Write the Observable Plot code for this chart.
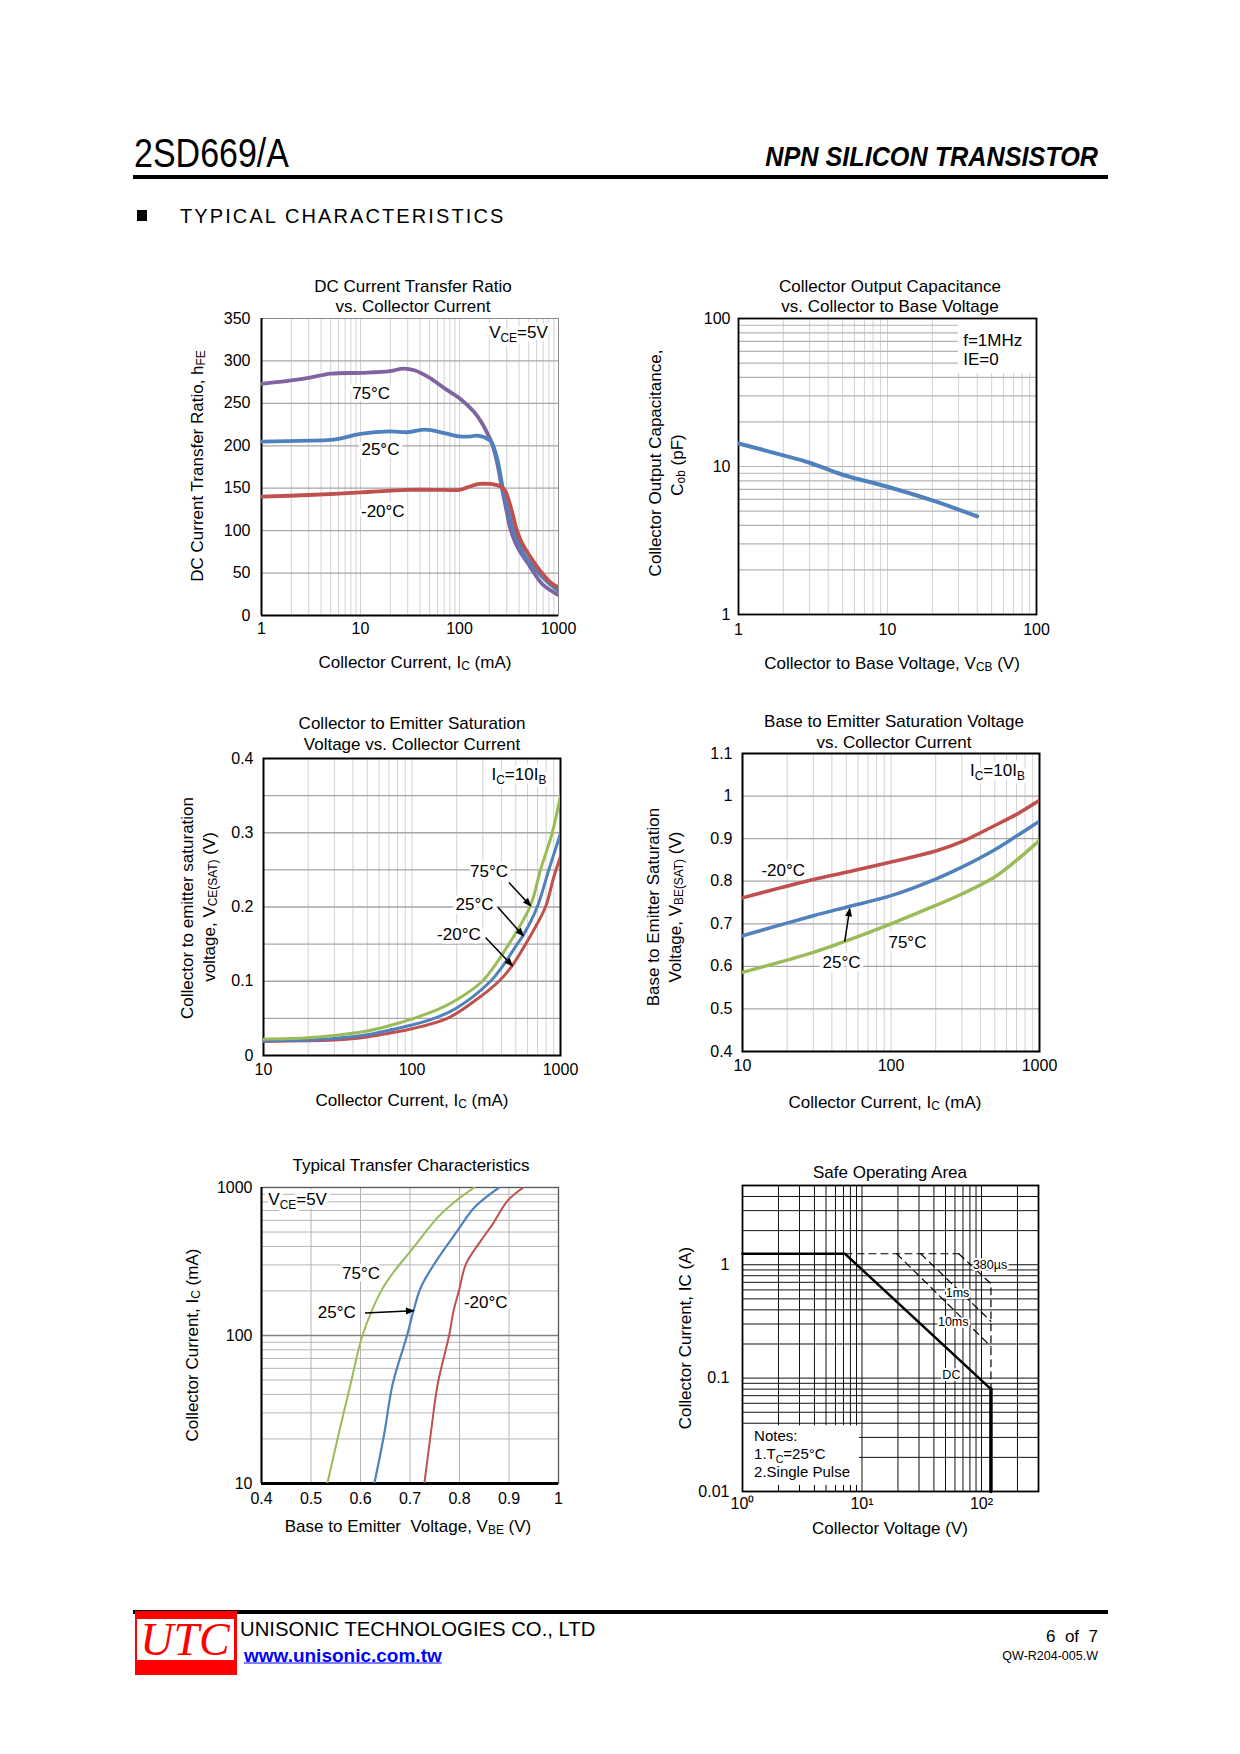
<!DOCTYPE html>
<html><head><meta charset="utf-8">
<script src="https://cdn.jsdelivr.net/npm/d3@7"></script>
<script src="https://cdn.jsdelivr.net/npm/@observablehq/plot@0.6"></script>
<style>
html,body{margin:0;padding:0;background:#fff;}
#page{position:relative;width:1240px;height:1754px;background:#fff;overflow:hidden;font-family:"Liberation Sans",Arial,Helvetica,sans-serif;color:#000;}
.t{position:absolute;white-space:nowrap;line-height:1;}
.c{transform:translate(-50%,-50%);}
.rot{transform:translate(-50%,-50%) rotate(-90deg);}
sub{font-size:0.7em;vertical-align:-0.25em;line-height:0;}
.box{position:absolute;}
</style></head><body><div id="page"></div>
<script>
const ns = "http://www.w3.org/2000/svg";
const FONT = '"Liberation Sans", Arial, Helvetica, sans-serif';
const PURPLE = "#8064A2", BLUE = "#4F81BD", RED = "#C0504D", GREEN = "#9BBB59";

// ================= DATA =================
// Chart 1: DC current transfer ratio hFE vs Ic (mA)
const hfe75Ic = [1,2,3,5,10,20,27,35,50,70,100,140,170,200,213,240,268,300,325,360,400,500,560,700,1000];
const hfe75   = [273,277,280,285,286,288,291,289,280,268,256,240,226,210,203,180,150,122,103,88,77,60,51,36,24];
const hfe25Ic = [1,3,5,6,10,20,30,45,70,100,130,150,200,213,240,274,300,352,400,450,629,800,1000];
const hfe25   = [205,206,207,208,214,217,216,219,215,211,211,212,207,203,185,150,130,100,85,72,50,38,29];
const hfeM20Ic = [1,3,10,30,70,100,120,160,200,230,260,290,310,340,380,430,500,679,850,1000];
const hfeM20   = [140,142,145,148,148,148,151,155,155,154,152,147,138,122,100,85,72,50,38,33];
const c1LabelText = ["75°C","25°C","-20°C","V_{CE}=5V"];
const c1LabelX = [12.8,15.9,16.8,394];
const c1LabelY = [262,196,123,334];
const c1XTicks = [1,10,100,1000];
const c1YTicks = [0,50,100,150,200,250,300,350];
const grid1X = [2,3,4,5,6,7,8,9,10,20,30,40,50,60,70,80,90,100,200,300,400,500,600,700,800,900];
const grid1Y = [50,100,150,200,250,300];

// Chart 2: Cob vs Vcb
const cobVcb = [1,2,3,5,10,20,40];
const cobPf  = [14.3,11.9,10.6,8.8,7.3,5.9,4.6];
const c2LabelText = ["f=1MHz","IE=0"];
const c2LabelX = [32.2,32.2];
const c2LabelY = [71.3,52.8];
const c2NoteBox = [{x1:29.9, x2:100, y1:42.5, y2:100}];
const c2Ticks = [1,10,100];
const grid2 = [2,3,4,5,6,7,8,9,10,20,30,40,50,60,70,80,90];

// Chart 3: VCE(sat) vs Ic
const vce75Ic = [10,20,30,50,70,103,150,200,297,449,628,733,880,1000];
const vce75   = [0.022,0.024,0.027,0.033,0.040,0.050,0.062,0.075,0.100,0.150,0.202,0.250,0.300,0.350];
const vce25Ic = [10,20,30,50,70,100,141,200,338,400,511,561,697,834,1000];
const vce25   = [0.020,0.021,0.023,0.028,0.034,0.041,0.050,0.064,0.100,0.118,0.150,0.162,0.200,0.250,0.299];
const vceM20Ic = [10,20,30,50,70,100,173,250,385,473,582,792,900,1000];
const vceM20   = [0.019,0.020,0.021,0.025,0.030,0.036,0.050,0.070,0.100,0.121,0.150,0.200,0.240,0.268];
const c3LabelText = ["75°C","25°C","-20°C","I_{C}=10I_{B}"];
const c3LabelX = [330,264,207,525];
const c3LabelY = [0.248,0.203,0.163,0.379];
const c3ArrowX1 = [449,379,313], c3ArrowY1 = [0.233,0.1996,0.159];
const c3ArrowX2 = [628,561,473], c3ArrowY2 = [0.2018,0.1614,0.121];
const c3XTicks = [10,100,1000];
const c3YTicks = [0,0.1,0.2,0.3,0.4];
const grid34X = [20,30,40,50,60,70,80,90,100,200,300,400,500,600,700,800,900];
const grid3Y = [0.05,0.1,0.15,0.2,0.25,0.3,0.35];

// Chart 4: VBE(sat) vs Ic
const vbeIc = [10,30,50,100,200,300,500,700,1000];
const vbeM20 = [0.761,0.804,0.821,0.845,0.871,0.893,0.931,0.957,0.990];
const vbe25  = [0.672,0.719,0.739,0.766,0.805,0.833,0.874,0.906,0.941];
const vbe75  = [0.586,0.633,0.660,0.700,0.743,0.770,0.810,0.849,0.896];
const c4LabelText = ["-20°C","75°C","25°C","I_{C}=10I_{B}"];
const c4LabelX = [18.8,129,46.4,521];
const c4LabelY = [0.825,0.657,0.608,1.061];
const c4ArrowX1 = [48.8], c4ArrowY1 = [0.658], c4ArrowX2 = [52.7], c4ArrowY2 = [0.735];
const c4YTicks = [0.4,0.5,0.6,0.7,0.8,0.9,1,1.1];
const grid4Y = [0.5,0.6,0.7,0.8,0.9,1.0];

// Chart 5: transfer characteristics Ic vs VBE
const tr75V = [0.533,0.556,0.580,0.604,0.642,0.665,0.702,0.756,0.793,0.830];
const tr75I = [10,21.7,47,100,201,263,374,628,813,1000];
const tr25V = [0.628,0.648,0.665,0.694,0.707,0.722,0.749,0.796,0.830,0.880];
const tr25I = [10,21.7,47,100,147,212,304,511,733,1000];
const trM20V = [0.729,0.742,0.756,0.779,0.788,0.799,0.813,0.843,0.867,0.897,0.929];
const trM20I = [10,21.7,47,100,147,201,304,436,566,813,1000];
const c5LabelText = ["75°C","25°C","-20°C","V_{CE}=5V"];
const c5LabelX = [0.601,0.552,0.853,0.473];
const c5LabelY = [263,142,168,835];
const c5ArrowX1 = [0.609], c5ArrowY1 = [142], c5ArrowX2 = [0.707], c5ArrowY2 = [147];
const c5XTicks = [0.4,0.5,0.6,0.7,0.8,0.9,1];
const c5YTicks = [10,100,1000];
const grid5X = [0.5,0.6,0.7,0.8,0.9];
const grid5Y = [20,30,40,50,60,70,80,90,200,300,400,500,600,700,800,900];

// Chart 6: Safe operating area
const soaDcV = [1,7.2,120];          const soaDcI = [1.25,1.25,0.08];
const soaDropV = [120,120];          const soaDropI = [0.08,0.01];
const soaTopV = [7.2,64.5];          const soaTopI = [1.25,1.25];
const soa380V = [64.5,120,120];      const soa380I = [1.25,0.68,0.08];
const soa1msV = [31,120];            const soa1msI = [1.25,0.317];
const soa10msV = [19.5,120];         const soa10msI = [1.25,0.19];
const c6LabelText = ["380µs","1ms","10ms","DC"];
const c6LabelX = [118,63,58,56];
const c6LabelY = [1.0,0.56,0.31,0.106];
const c6NoteText = ["Notes:","1.T_{C}=25°C","2.Single Pulse"];
const c6NoteX = [1.25,1.25,1.25];
const c6NoteY = [0.031,0.0215,0.0147];
const c6NoteBox = [{x1:1, x2:9.5, y1:0.01, y2:0.038}];
const c6XTicks = [1,10,100];
const c6XTickText = ["10⁰","10¹","10²"];
const c6YTicks = [0.01,0.1,1];
const grid6X = [2,3,4,5,6,7,8,9,10,20,30,40,50,60,70,80,90,100,200];
const grid6Y = [0.02,0.03,0.04,0.05,0.06,0.07,0.08,0.09,0.1,0.2,0.3,0.4,0.5,0.6,0.7,0.8,0.9,1,2,3,4];
const soaMinorTicks = [2,3,4,5,6,7,8,9];

// ================= HELPERS =================
const page = document.getElementById("page");
const rows = (xs, ys) => xs.map((x, i) => ({x, y: ys[i]}));
const lbls = (ts, xs, ys) => ts.map((t, i) => ({t, x: xs[i], y: ys[i]}));
const arrows = (x1, y1, x2, y2) => x1.map((v, i) => ({x1: v, y1: y1[i], x2: x2[i], y2: y2[i]}));
const series = (xs, ys, color, w) => Plot.line(rows(xs, ys), {x: "x", y: "y", stroke: color, strokeWidth: w, curve: "catmull-rom", clip: true, strokeLinecap: "round", strokeLinejoin: "round"});
// text with a white halo: a white stroked layer below, a black fill layer above
const halo = (data, opts = {}) => {
  const {strokeWidth = 7, ...rest} = opts;
  const base = {x: "x", y: "y", text: "t", fontSize: 17, ...rest};
  const marks = [];
  if (strokeWidth > 0) marks.push(Plot.text(data, {...base, fill: "white", stroke: "white", strokeWidth, strokeLinejoin: "round"}));
  marks.push(Plot.text(data, {...base, fill: "#000"}));
  return marks;
};
const arrowMarks = (d) => Plot.link(d, {x1: "x1", y1: "y1", x2: "x2", y2: "y2", stroke: "#000", strokeWidth: 1.5, markerEnd: "arrow"});

function post(svg) {
  svg.querySelectorAll("text").forEach(t => {
    const s = t.textContent;
    if (!s.includes("_{")) return;
    t.textContent = "";
    const parts = s.split(/(_\{[^}]*\})/).filter(Boolean);
    let down = false;
    for (const p of parts) {
      const ts = document.createElementNS(ns, "tspan");
      if (p.startsWith("_{")) {
        ts.textContent = p.slice(2, -1);
        ts.setAttribute("font-size", "70%");
        if (!down) { ts.setAttribute("dy", "4"); down = true; }
      } else {
        ts.textContent = p;
        if (down) { ts.setAttribute("dy", "-4"); down = false; }
      }
      t.appendChild(ts);
    }
  });
  svg.querySelectorAll("marker").forEach(m => {
    const c = m.getAttribute("stroke") || "black";
    m.setAttribute("viewBox", "-8 -5 10 10");
    m.setAttribute("fill", c);
    m.setAttribute("stroke", "none");
    while (m.firstChild) m.removeChild(m.firstChild);
    const p = document.createElementNS(ns, "path");
    p.setAttribute("d", "M-7.5,-3.5L1.5,0L-7.5,3.5Z");
    m.appendChild(p);
  });
}

function place(frame, opts) {
  const [fx, fy, fw, fh] = frame;
  const mL = 70, mR = 30, mT = 12, mB = 32;
  const svg = Plot.plot({
    width: fw + mL + mR, height: fh + mT + mB,
    marginLeft: mL, marginRight: mR, marginTop: mT, marginBottom: mB,
    style: {fontFamily: FONT, fontSize: "16px", background: "transparent", color: "#000", overflow: "visible"},
    ...opts
  });
  post(svg);
  svg.style.position = "absolute";
  svg.style.left = (fx - mL) + "px";
  svg.style.top = (fy - mT) + "px";
  svg.style.maxWidth = "none";
  page.appendChild(svg);
}

function T(html, x, y, {cls = "c", size = 17, css = {}} = {}) {
  const d = document.createElement("div");
  d.className = "t " + cls;
  d.innerHTML = html;
  d.style.left = x + "px"; d.style.top = y + "px"; d.style.fontSize = size + "px";
  Object.assign(d.style, css);
  page.appendChild(d);
  return d;
}
function B(x, y, w, h, color) {
  const d = document.createElement("div");
  d.className = "box";
  Object.assign(d.style, {left: x + "px", top: y + "px", width: w + "px", height: h + "px", background: color});
  page.appendChild(d);
}
const ax = (ticks, pad, fmt = String) => Plot.axisX(ticks, {tickSize: 0, tickPadding: pad, tickFormat: fmt, label: null});
const ay = (ticks, pad, fmt = String) => Plot.axisY(ticks, {tickSize: 0, tickPadding: pad, tickFormat: fmt, label: null});

// ================= CHART 1 =================
place([261, 318, 297, 297], {
  x: {type: "log", domain: [1, 1000]},
  y: {type: "linear", domain: [0, 350]},
  marks: [
    Plot.ruleX(grid1X, {stroke: "#d2d2d2", strokeWidth: 1}),
    Plot.ruleY(grid1Y, {stroke: "#a6a6a6", strokeWidth: 1.3}),
    Plot.frame({stroke: "#8a8a8a"}),
    Plot.ruleX([1], {stroke: "#000", strokeWidth: 2}),
    Plot.ruleY([0], {stroke: "#000", strokeWidth: 2}),
    ax(c1XTicks, 7), ay(c1YTicks, 11),
    series(hfe75Ic, hfe75, PURPLE, 3.8),
    series(hfe25Ic, hfe25, BLUE, 3.8),
    series(hfeM20Ic, hfeM20, RED, 3.8),
    halo(lbls(c1LabelText, c1LabelX, c1LabelY))
  ]
});
T("DC Current Transfer Ratio", 413, 286);
T("vs. Collector Current", 413, 306);
T("DC Current Transfer Ratio, h<sub>FE</sub>", 197, 466, {cls: "rot"});
T("Collector Current, I<sub>C</sub> (mA)", 415, 662);

// ================= CHART 2 =================
place([738, 318, 298, 296], {
  x: {type: "log", domain: [1, 100]},
  y: {type: "log", domain: [1, 100]},
  marks: [
    Plot.ruleX(grid2, {stroke: "#d2d2d2", strokeWidth: 1}),
    Plot.ruleY(grid2, {stroke: "#b4b4b4", strokeWidth: 1.2}),
    Plot.rect(c2NoteBox, {x1: "x1", x2: "x2", y1: "y1", y2: "y2", fill: "white"}),
    Plot.frame({stroke: "#000", strokeWidth: 1.8}),
    ax(c2Ticks, 9), ay(c2Ticks, 8),
    series(cobVcb, cobPf, BLUE, 4),
    halo(lbls(c2LabelText, c2LabelX, c2LabelY), {textAnchor: "start", strokeWidth: 4})
  ]
});
T("Collector Output Capacitance", 890, 286);
T("vs. Collector to Base Voltage", 890, 306);
T("Collector Output Capacitance,", 655, 463, {cls: "rot"});
T("C<sub>ob</sub> (pF)", 677, 465, {cls: "rot"});
T("Collector to Base Voltage, V<sub>CB</sub> (V)", 892, 663);

// ================= CHART 3 =================
place([263, 758, 297, 297], {
  x: {type: "log", domain: [10, 1000]},
  y: {type: "linear", domain: [0, 0.4]},
  marks: [
    Plot.ruleX(grid34X, {stroke: "#d2d2d2", strokeWidth: 1}),
    Plot.ruleY(grid3Y, {stroke: "#a6a6a6", strokeWidth: 1.3}),
    Plot.frame({stroke: "#000", strokeWidth: 2}),
    ax(c3XTicks, 8), ay(c3YTicks, 10),
    series(vceM20Ic, vceM20, RED, 3),
    series(vce25Ic, vce25, BLUE, 3),
    series(vce75Ic, vce75, GREEN, 3),
    halo(lbls(c3LabelText, c3LabelX, c3LabelY)),
    arrowMarks(arrows(c3ArrowX1, c3ArrowY1, c3ArrowX2, c3ArrowY2))
  ]
});
T("Collector to Emitter Saturation", 412, 723);
T("Voltage vs. Collector Current", 412, 744);
T("Collector to emitter saturation", 187, 908, {cls: "rot"});
T("voltage, V<sub>CE(SAT)</sub> (V)", 209, 907, {cls: "rot"});
T("Collector Current, I<sub>C</sub> (mA)", 412, 1100);

// ================= CHART 4 =================
place([742, 753, 297, 298], {
  x: {type: "log", domain: [10, 1000]},
  y: {type: "linear", domain: [0.4, 1.1]},
  marks: [
    Plot.ruleX(grid34X, {stroke: "#d2d2d2", strokeWidth: 1}),
    Plot.ruleY(grid4Y, {stroke: "#a6a6a6", strokeWidth: 1.3}),
    Plot.frame({stroke: "#000", strokeWidth: 2}),
    ax(c3XTicks, 8), ay(c4YTicks, 10),
    series(vbeIc, vbeM20, RED, 3.5),
    series(vbeIc, vbe25, BLUE, 3.5),
    series(vbeIc, vbe75, GREEN, 3.5),
    halo(lbls(c4LabelText, c4LabelX, c4LabelY)),
    arrowMarks(arrows(c4ArrowX1, c4ArrowY1, c4ArrowX2, c4ArrowY2))
  ]
});
T("Base to Emitter Saturation Voltage", 894, 721);
T("vs. Collector Current", 894, 742);
T("Base to Emitter Saturation", 653, 907, {cls: "rot"});
T("Voltage, V<sub>BE(SAT)</sub> (V)", 675, 907, {cls: "rot"});
T("Collector Current, I<sub>C</sub> (mA)", 885, 1102);

// ================= CHART 5 =================
place([261, 1187, 297, 296], {
  x: {type: "linear", domain: [0.4, 1]},
  y: {type: "log", domain: [10, 1000]},
  marks: [
    Plot.ruleX(grid5X, {stroke: "#b4b4b4", strokeWidth: 1}),
    Plot.ruleY(grid5Y, {stroke: "#b4b4b4", strokeWidth: 1}),
    Plot.ruleY([100], {stroke: "#808080", strokeWidth: 1.3}),
    Plot.frame({stroke: "#555", strokeWidth: 1.3}),
    Plot.ruleX([0.4], {stroke: "#000", strokeWidth: 2}),
    Plot.ruleY([10], {stroke: "#000", strokeWidth: 3}),
    ax(c5XTicks, 9), ay(c5YTicks, 9),
    series(tr75V, tr75I, GREEN, 2),
    series(tr25V, tr25I, BLUE, 2.2),
    series(trM20V, trM20I, RED, 2),
    halo(lbls(c5LabelText, c5LabelX, c5LabelY)),
    arrowMarks(arrows(c5ArrowX1, c5ArrowY1, c5ArrowX2, c5ArrowY2))
  ]
});
T("Typical Transfer Characteristics", 411, 1165);
T("Collector Current, I<sub>C</sub> (mA)", 192, 1345, {cls: "rot"});
T("Base to Emitter&nbsp; Voltage, V<sub>BE</sub> (V)", 408, 1526);

// ================= CHART 6 =================
place([742, 1185, 296, 306], {
  x: {type: "log", domain: [1, 300]},
  y: {type: "log", domain: [0.01, 5]},
  marks: [
    Plot.ruleX(grid6X, {stroke: "#111", strokeWidth: 1}),
    Plot.ruleY(grid6Y, {stroke: "#111", strokeWidth: 1}),
    Plot.rect(c6NoteBox, {x1: "x1", x2: "x2", y1: "y1", y2: "y2", fill: "white"}),
    Plot.ruleX(soaMinorTicks, {y1: 0.01, y2: 0.0113, stroke: "#000", strokeWidth: 1}),
    Plot.frame({stroke: "#000", strokeWidth: 1.8}),
    ax(c6XTicks, 6, d => c6XTickText[c6XTicks.indexOf(d)]), ay(c6YTicks, 13),
    Plot.line(rows(soaTopV, soaTopI), {x: "x", y: "y", stroke: "#000", strokeWidth: 1.2, strokeDasharray: "7,5"}),
    Plot.line(rows(soa380V, soa380I), {x: "x", y: "y", stroke: "#000", strokeWidth: 1.2, strokeDasharray: "7,5"}),
    Plot.line(rows(soa1msV, soa1msI), {x: "x", y: "y", stroke: "#000", strokeWidth: 1.2, strokeDasharray: "7,5"}),
    Plot.line(rows(soa10msV, soa10msI), {x: "x", y: "y", stroke: "#000", strokeWidth: 1.2, strokeDasharray: "7,5"}),
    Plot.line(rows(soaDcV, soaDcI), {x: "x", y: "y", stroke: "#000", strokeWidth: 2.5}),
    Plot.line(rows(soaDropV, soaDropI), {x: "x", y: "y", stroke: "#000", strokeWidth: 3.5}),
    halo(lbls(c6LabelText, c6LabelX, c6LabelY), {fontSize: 12.5, strokeWidth: 4}),
    halo(lbls(c6NoteText, c6NoteX, c6NoteY), {fontSize: 15, textAnchor: "start", strokeWidth: 0})
  ]
});
T("Safe Operating Area", 890, 1172);
T("Collector Current, IC (A)", 685, 1338, {cls: "rot"});
T("Collector Voltage (V)", 890, 1528);

// ================= HEADER / FOOTER =================
T("2SD669/A", 134, 152.5, {cls: "", size: 40, css: {transform: "translate(0,-50%) scaleX(0.85)", transformOrigin: "0 50%"}});
T("NPN SILICON TRANSISTOR", 1098, 156.7, {cls: "", size: 28, css: {fontWeight: "bold", fontStyle: "italic", transform: "translate(-100%,-50%) scaleX(0.9)", transformOrigin: "100% 50%"}});
B(133, 175, 975, 4, "#000");
B(137, 210, 10, 11, "#000");
T("TYPICAL CHARACTERISTICS", 180, 216, {cls: "", size: 20, css: {transform: "translate(0,-50%)", letterSpacing: "2.1px"}});

B(133, 1610, 975, 4, "#000");
B(135, 1611, 102, 64, "#ff0000");
B(137, 1619, 97, 41, "#ffffff");
T("UTC", 185, 1640, {size: 46, css: {fontFamily: '"Liberation Serif","Times New Roman",serif', fontStyle: "italic", color: "#ff0000"}});
T("UNISONIC TECHNOLOGIES CO., LTD", 240, 1629, {cls: "", size: 20.3, css: {transform: "translate(0,-50%)"}});
T("www.unisonic.com.tw", 244, 1655, {cls: "", size: 19, css: {transform: "translate(0,-50%)", fontWeight: "bold", color: "#0000ff", textDecoration: "underline"}});
T("6&nbsp;&nbsp;of&nbsp;&nbsp;7", 1098, 1636, {cls: "", size: 17, css: {transform: "translate(-100%,-50%)"}});
T("QW-R204-005.W", 1098, 1656, {cls: "", size: 12.5, css: {transform: "translate(-100%,-50%)"}});
</script></body></html>
